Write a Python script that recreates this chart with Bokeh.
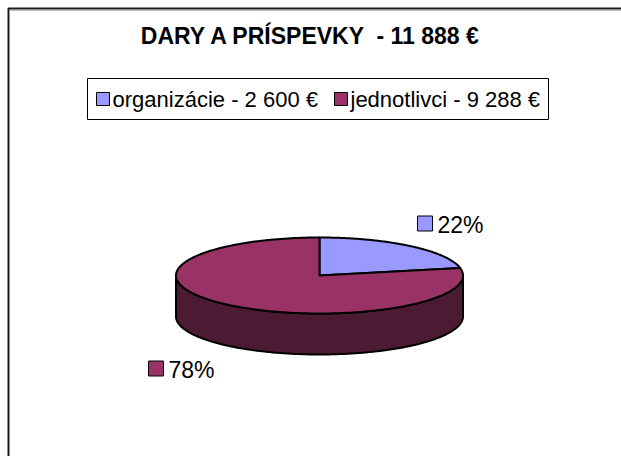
import numpy as np
from bokeh.plotting import figure
from bokeh.models import Range1d
from bokeh.core.properties import value
from bokeh.embed import file_html
from bokeh.resources import INLINE

# ---- data ----
categories = ["organizácie", "jednotlivci"]
amounts = [2600, 9288]
legend_labels = ["organizácie - 2 600 €", "jednotlivci - 9 288 €"]
title_text = "DARY A PRÍSPEVKY  - 11 888 €"

# ---- style ----
top_colors = ["#9999FF", "#993366"]
side_colors = ["#4D4D80", "#4B1B33"]
FONT = "Liberation Sans"
W, H = 621, 456

# pie layout (screen px)
cx, cy, ra, rb, depth = 319, 275, 143.5, 38, 41
start_deg = 90.0

p = figure(width=W, height=H, x_range=Range1d(0, W), y_range=Range1d(H, 0),
           x_axis_type=None, y_axis_type=None, output_backend="svg",
           toolbar_location=None, min_border=0, min_border_left=0,
           min_border_right=0, min_border_top=0, min_border_bottom=0)
p.grid.visible = False
p.outline_line_color = None
p.background_fill_color = "white"
p.border_fill_color = "white"

# chart frame (left and top edges visible)
p.line([8, 8, W + 5], [H + 5, 8, 8], line_color="#1a1a1a", line_width=2)
p.line([9.5, W + 5], [10, 10], line_color="#bbbbbb", line_width=1)

total = float(sum(amounts))
fracs = [a / total for a in amounts]

def ex(t):
    return cx + ra * np.cos(np.radians(t))

def ey(t):
    return cy - rb * np.sin(np.radians(t))

# slice angle ranges (clockwise from 12 o'clock)
ranges = []
s = start_deg
for f in fracs:
    e = s - 360.0 * f
    ranges.append((e, s))
    s = e

# side walls (front half: angles 180..360 mod 360)
for (e, s0), sc in zip(ranges, side_colors):
    for lo_f, hi_f in [(-180, 0), (180, 360), (540, 720)]:
        lo, hi = max(e, lo_f), min(s0, hi_f)
        if hi <= lo:
            continue
        t = np.linspace(lo, hi, 120)
        xs = list(ex(t)) + list(ex(t[::-1]))
        ys = list(ey(t)) + list(ey(t[::-1]) + depth)
        p.patch(xs, ys, fill_color=sc, line_color="black", line_width=2,
                line_join="round")

# top faces
for (e, s0), tc in zip(ranges, top_colors):
    t = np.linspace(s0, e, 200)
    xs = [cx] + list(ex(t)) + [cx]
    ys = [cy] + list(ey(t)) + [cy]
    p.patch(xs, ys, fill_color=tc, line_color="black", line_width=2,
            line_join="round")

# data labels
label_pos = [(417, 223), (148, 368)]
for a, tc, (lx, ly) in zip(amounts, top_colors, label_pos):
    pct = f"{round(100 * a / total)}%"
    p.rect([lx + 7.5], [ly], width=15, height=15, fill_color=tc,
           line_color="black", line_width=1)
    p.text([lx + 20], [ly + 1], text=[pct], text_font=value(FONT),
           text_font_size="23px", text_baseline="middle", text_align="left",
           text_color="black")

# title (keep the double space visible)
p.text([310.5], [35], text=[title_text.replace("  ", " \u00a0")],
       text_font=value(FONT), text_font_size="23px", text_font_style="bold",
       text_align="center", text_baseline="middle", text_color="black")

# legend box
lx0, lx1, ly0, ly1 = 87, 548, 78, 119
p.rect([(lx0 + lx1) / 2], [(ly0 + ly1) / 2], width=lx1 - lx0, height=ly1 - ly0,
       fill_color="white", line_color="black", line_width=1)
legend_x = [96, 334]
for lab, tc, x0 in zip(legend_labels, top_colors, legend_x):
    p.rect([x0 + 6.5], [98.5], width=13, height=13, fill_color=tc,
           line_color="black", line_width=1)
    p.text([x0 + 16], [99], text=[lab], text_font=value(FONT),
           text_font_size="22px", text_baseline="middle", text_align="left",
           text_color="black")

open("out.html", "w").write(file_html(p, INLINE))
